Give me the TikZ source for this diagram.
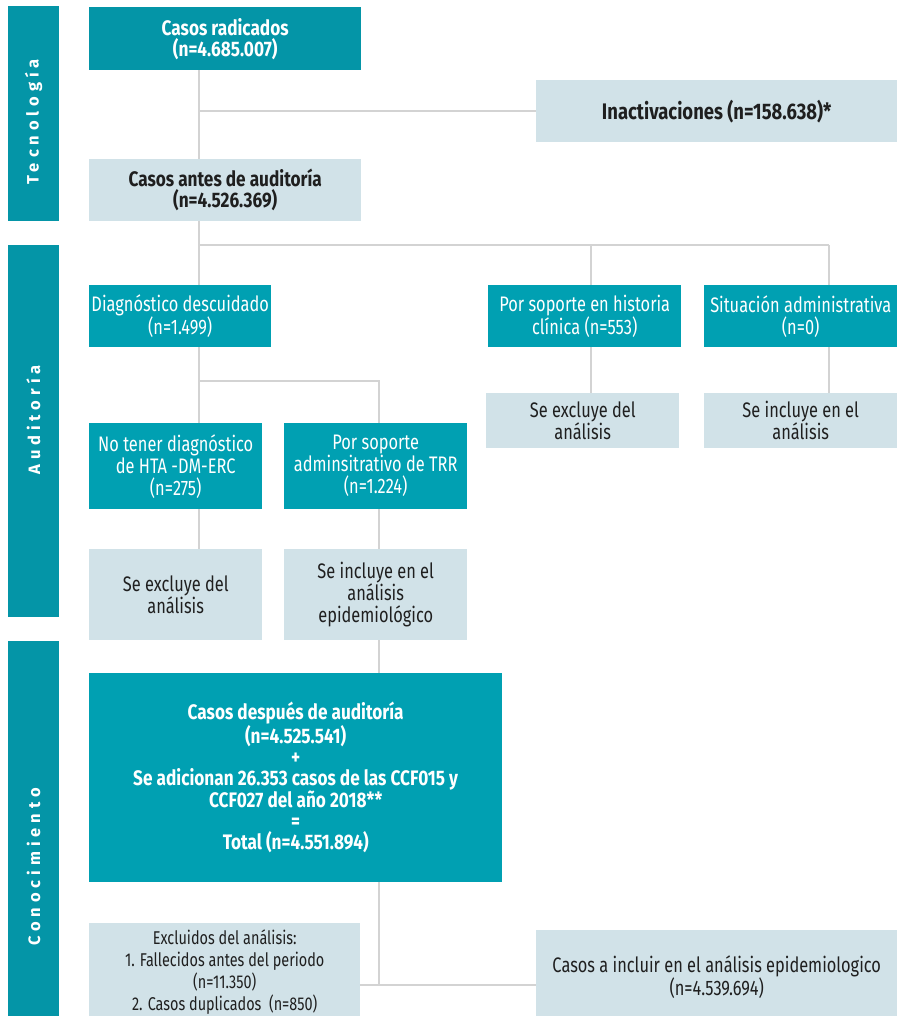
\documentclass[tikz,border=0pt]{standalone}
\usepackage{fontspec}
\setmainfont{Fira Sans}[FakeStretch=0.78, BoldFeatures={FakeStretch=0.82}]
\newfontfamily\sidefont{Fira Sans}[LetterSpace=30]
\usetikzlibrary{positioning}

\definecolor{tealD}{HTML}{00A0B2}
\definecolor{tealS}{HTML}{0495A7}
\definecolor{paleB}{HTML}{D1E2E8}
\definecolor{lineG}{HTML}{D3D3D3}

\begin{document}
\begin{tikzpicture}[x=1pt, y=-1pt,
	every node/.style={font=\fontsize{21}{22}\selectfont, inner sep=0pt, align=center, anchor=north west},
	dark/.style={fill=tealD, text=white},
	pale/.style={fill=paleB, text=black!88},
	bold/.style={font=\bfseries\fontsize{21}{21}\selectfont},
	side/.style={fill=tealS, minimum width=51pt},
	sidetext/.style={anchor=center, rotate=90, text=white, font=\sidefont\bfseries\fontsize{16.5}{16}\selectfont},
	conn/.style={draw=lineG, line width=2.5pt}]
	\useasboundingbox (0,0) rectangle (897,1016);
	\node[side, minimum height=215pt] (tecbar) at (8,6) {};
	\node[side, minimum height=372pt] (audbar) at (8,245) {};
	\node[side, minimum height=400pt] (conbar) at (8,641) {};
	\node[sidetext] (tec) at (33.5,122) {Tecnología};
	\node[sidetext] (aud) at (33.5,420) {Auditoría};
	\node[sidetext] (con) at (33.5,867) {Conocimiento};
	\coordinate (b1) at (199,111);
	\coordinate (b2) at (199,245);
	\coordinate (b3) at (591,245);
	\coordinate (b4) at (829,245);
	\coordinate (b5) at (199,381);
	\coordinate (b6) at (379,381);
	\coordinate (b7) at (379,985);
	\node[dark, bold, fill=tealS, minimum width=272pt, minimum height=63pt] (radic) at (89,7) {Casos radicados\\(n=4.685.007)};
	\node[pale, bold, font=\bfseries\fontsize{22.5}{21}\selectfont, minimum width=361pt, minimum height=62pt] (inact) at (536,80) {Inactivaciones (n=158.638)*};
	\node[pale, bold, minimum width=272pt, minimum height=62pt] (antes) at (89,159) {Casos antes de auditoría\\(n=4.526.369)};
	\node[dark, minimum width=182pt, minimum height=62pt] (diag) at (89,285) {Diagnóstico descuidado\\(n=1.499)};
	\node[dark, minimum width=193pt, minimum height=62pt] (hist) at (488,285) {Por soporte en historia\\clínica (n=553)};
	\node[dark, minimum width=193pt, minimum height=62pt] (situ) at (704,285) {Situación administrativa\\(n=0)};
	\node[pale, minimum width=193pt, minimum height=55pt] (excl1) at (486,393) {Se excluye del\\análisis};
	\node[pale, minimum width=193pt, minimum height=55pt] (incl1) at (704,393) {Se incluye en el\\análisis};
	\node[dark, minimum width=173pt, minimum height=86pt] (notener) at (89,423) {No tener diagnóstico\\de HTA -DM-ERC\\(n=275)};
	\node[dark, minimum width=183pt, minimum height=86pt] (soporte) at (284,423) {Por soporte\\adminsitrativo de TRR\\(n=1.224)};
	\node[pale, minimum width=173pt, minimum height=91pt] (excl2) at (89,549) {Se excluye del\\análisis};
	\node[pale, minimum width=183pt, minimum height=91pt] (incl2) at (284,549) {Se incluye en el\\análisis\\epidemiológico};
	\node[dark, bold, minimum width=413pt, minimum height=209pt] (despues) at (89,673) {Casos después de auditoría\\(n=4.525.541)\\+\\Se adicionan 26.353 casos de las CCF015 y\\CCF027 del año 2018**\\=\\Total (n=4.551.894)};
	\node[pale, font=\fontsize{18.5}{22}\selectfont, minimum width=271pt, minimum height=97pt] (excl3) at (89,923) {Excluidos del análisis:\\1. Fallecidos antes del periodo\\(n=11.350)\\2. Casos duplicados~ (n=850)};
	\node[pale, font=\fontsize{21}{20}\selectfont, minimum width=361pt, minimum height=94pt] (incl3) at (536,930) {Casos a incluir en el análisis epidemiologico\\(n=4.539.694)};
	\draw[conn] (radic.south -| b1) -- (antes.north -| b1);
	\draw[conn] (b1) -- (inact.west |- b1);
	\draw[conn] (antes.south -| b2) -- (diag.north -| b2);
	\draw[conn] (b2) -- (b4);
	\draw[conn] (b3) -- (hist.north -| b3);
	\draw[conn] (b4) -- (situ.north -| b4);
	\draw[conn] (hist.south -| b3) -- (excl1.north -| b3);
	\draw[conn] (situ.south -| b4) -- (incl1.north -| b4);
	\draw[conn] (diag.south -| b5) -- (notener.north -| b5);
	\draw[conn] (b5) -- (b6) -- (soporte.north -| b6);
	\draw[conn] (notener.south -| b5) -- (excl2.north -| b5);
	\draw[conn] (soporte.south -| b6) -- (incl2.north -| b6);
	\draw[conn] (incl2.south -| b6) -- (despues.north -| b6);
	\draw[conn] (despues.south -| b7) -- (b7);
	\draw[conn] (excl3.east |- b7) -- (incl3.west |- b7);
\end{tikzpicture}
\end{document}
